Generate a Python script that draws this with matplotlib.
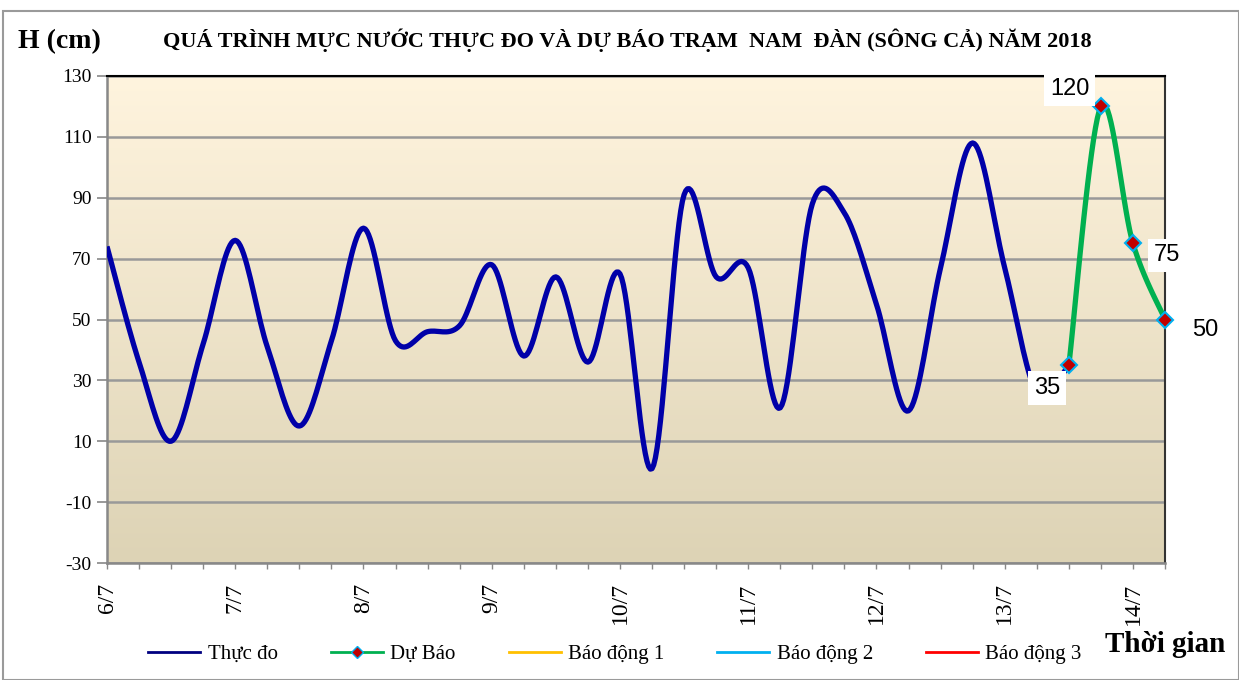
import numpy as np
import matplotlib.pyplot as plt
from matplotlib.lines import Line2D
from matplotlib.patches import Rectangle

# Du lieu muc nuoc (cm), 6 gio mot diem, tu 6/7 den 14/7
thuc_do = [74, 36, 10, 42, 76, 41, 15, 43, 80, 43, 46, 48, 68, 38, 64, 36,
           65, 1, 91, 64, 67, 21, 88, 85, 55, 20, 67, 108, 67, 26, 35]
du_bao = [35, 120, 75, 50]
du_bao_start = 30
ngay = ['6/7', '7/7', '8/7', '9/7', '10/7', '11/7', '12/7', '13/7', '14/7']
y_ticks = [130, 110, 90, 70, 50, 30, 10, -10, -30]


def smooth(xs, ys, n=20):
    # duong cong kieu Excel (Catmull-Rom / Bezier)
    p = np.column_stack([xs, ys]).astype(float)
    p = np.vstack([p[0], p, p[-1]])
    out = []
    t = np.linspace(0, 1, n)[:, None]
    for i in range(1, len(p) - 2):
        p0, p1, p2, p3 = p[i - 1], p[i], p[i + 1], p[i + 2]
        b1 = p1 + (p2 - p0) / 6
        b2 = p2 - (p3 - p1) / 6
        seg = ((1 - t) ** 3) * p1 + 3 * ((1 - t) ** 2) * t * b1 + 3 * (1 - t) * t ** 2 * b2 + t ** 3 * p2
        out.append(seg)
    out = np.vstack(out)
    return out[:, 0], out[:, 1]


plt.rcParams['font.family'] = ['Liberation Serif', 'DejaVu Serif']

fig = plt.figure(figsize=(12.39, 6.8), dpi=100)
ax = fig.add_axes([107 / 1239, 1 - 563 / 680, (1165 - 107) / 1239, (563 - 76) / 680])

# vien ngoai bieu do
fig.patches.append(Rectangle((3 / 1239, 0), 1 - 3 / 1239, 1 - 11 / 680, transform=fig.transFigure,
                             fill=False, edgecolor='#9a9a9a', linewidth=1.5))

n_total = du_bao_start + len(du_bao)
ax.set_xlim(0, n_total - 1)
ax.set_ylim(-30, 130)

# nen gradient
grad = np.linspace(0, 1, 256)[:, None]
top = np.array([255, 244, 222]) / 255
bot = np.array([221, 211, 181]) / 255
img = top[None, None, :] * (1 - grad[:, :, None]) + bot[None, None, :] * grad[:, :, None]
ax.imshow(img, extent=[0, n_total - 1, -30, 130], aspect='auto', zorder=0)

for v in y_ticks:
    ax.axhline(v, color='#999999', linewidth=1.8, zorder=1)

x_obs = np.arange(len(thuc_do))
sx, sy = smooth(x_obs, thuc_do)
ax.plot(sx, sy, color='#0000A8', linewidth=3.8, zorder=3, solid_capstyle='butt')

x_db = np.arange(du_bao_start, du_bao_start + len(du_bao))
dx, dy = smooth(x_db, du_bao)
ax.plot(dx, dy, color='#00B050', linewidth=3.8, zorder=4, clip_on=False)
ax.plot(x_db, du_bao, linestyle='none', marker='D', markersize=8, markerfacecolor='#C00000',
        markeredgecolor='#00B0F0', markeredgewidth=1.5, zorder=5, clip_on=False)

# nhan du lieu
offsets = [(-22, -23), (-31, 17), (34, -12), (40, -10)]
for xi, yi, off in zip(x_db, du_bao, offsets):
    ax.annotate(str(yi), (xi, yi), xytext=off, textcoords='offset pixels', ha='center', va='center',
                fontsize=17, family='Liberation Sans', zorder=6,
                bbox=dict(boxstyle='square,pad=0.25', facecolor='white', edgecolor='none'),
                annotation_clip=False)

ax.set_yticks(y_ticks)
ax.set_yticklabels([str(v) for v in y_ticks], fontsize=14)
ax.set_xticks(np.arange(0, n_total, 4))
ax.set_xticklabels(ngay, rotation=90, fontsize=17, va='top')
ax.set_xticks(np.arange(0, n_total, 1), minor=True)
ax.tick_params(axis='y', length=7, width=1.2, color='#888888', pad=4)
ax.tick_params(axis='x', which='both', length=4, width=1, color='#888888', pad=10)

for s in ['left', 'bottom']:
    ax.spines[s].set_color('#888888')
    ax.spines[s].set_linewidth(1.8)
ax.spines['top'].set_color('black')
ax.spines['top'].set_linewidth(1.5)
ax.spines['right'].set_color('#333333')
ax.spines['right'].set_linewidth(1.5)

fig.text(18 / 1239, 1 - 42 / 680, 'H (cm)', fontsize=20, fontweight='bold', ha='left', va='center')
fig.text(627 / 1239, 1 - 40 / 680,
         'QUÁ TRÌNH MỰC NƯỚC THỰC ĐO VÀ DỰ BÁO TRẠM  NAM  ĐÀN (SÔNG CẢ) NĂM 2018',
         fontsize=16, fontweight='bold', ha='center', va='center')
fig.text(1165 / 1239, 1 - 644 / 680, 'Thời gian', fontsize=21, fontweight='bold', ha='center', va='center')

handles = [
    Line2D([], [], color='#000080', linewidth=2),
    Line2D([], [], color='#00B050', linewidth=2, marker='D', markersize=6,
           markerfacecolor='#C00000', markeredgecolor='#00B0F0'),
    Line2D([], [], color='#FFC000', linewidth=2),
    Line2D([], [], color='#00B0F0', linewidth=2),
    Line2D([], [], color='#FF0000', linewidth=2),
]
labels = ['Thực đo', 'Dự Báo', 'Báo động 1', 'Báo động 2', 'Báo động 3']
fig.legend(handles, labels, loc='center', bbox_to_anchor=(615 / 1239, 1 - 654 / 680), ncol=5,
           frameon=False, fontsize=15, handlelength=2.5, columnspacing=2.55, handletextpad=0.35)

fig.savefig('out.png', dpi=100)
